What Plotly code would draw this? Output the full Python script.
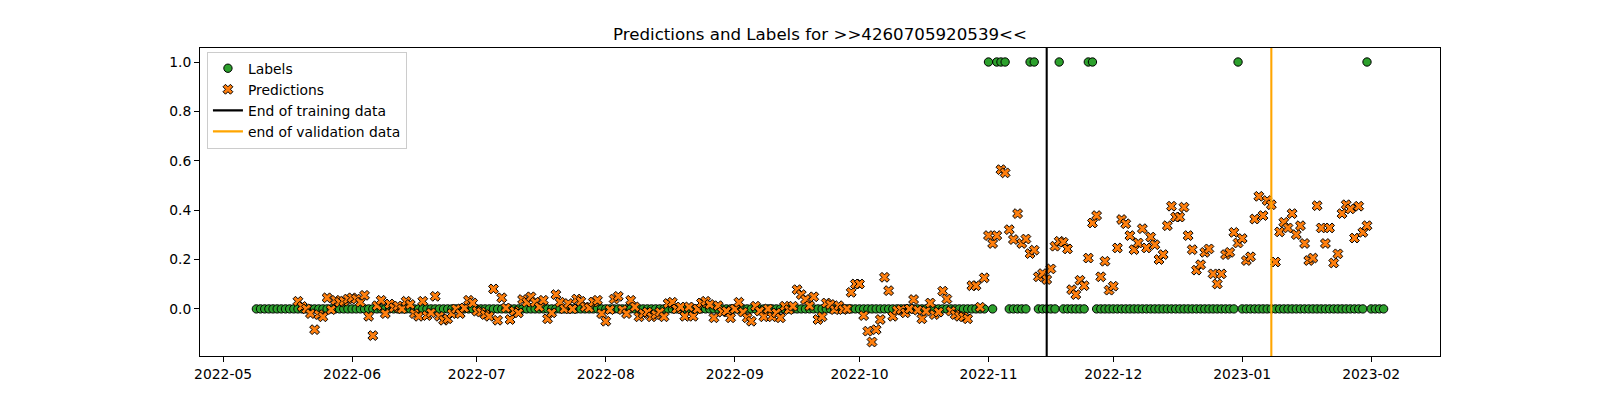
import pandas as pd
import plotly.graph_objects as go

# Daily labels, 2022-05-09 .. 2023-02-04 (one row per month)
label_start = "2022-05-09"
labels_may = [0, 0, 0, 0, 0, 0, 0, 0, 0, 0, 0, 0, 0, 0, 0, 0, 0, 0, 0, 0, 0, 0, 0]
labels_jun = [0, 0, 0, 0, 0, 0, 0, 0, 0, 0, 0, 0, 0, 0, 0, 0, 0, 0, 0, 0, 0, 0, 0, 0, 0, 0, 0, 0, 0, 0]
labels_jul = [0, 0, 0, 0, 0, 0, 0, 0, 0, 0, 0, 0, 0, 0, 0, 0, 0, 0, 0, 0, 0, 0, 0, 0, 0, 0, 0, 0, 0, 0, 0]
labels_aug = [0, 0, 0, 0, 0, 0, 0, 0, 0, 0, 0, 0, 0, 0, 0, 0, 0, 0, 0, 0, 0, 0, 0, 0, 0, 0, 0, 0, 0, 0, 0]
labels_sep = [0, 0, 0, 0, 0, 0, 0, 0, 0, 0, 0, 0, 0, 0, 0, 0, 0, 0, 0, 0, 0, 0, 0, 0, 0, 0, 0, 0, 0, 0]
labels_oct = [0, 0, 0, 0, 0, 0, 0, 0, 0, 0, 0, 0, 0, 0, 0, 0, 0, 0, 0, 0, 0, 0, 0, 0, 0, 0, 0, 0, 0, 0, 0]
labels_nov = [1, 0, 1, 1, 1, 0, 0, 0, 0, 0, 1, 1, 0, 0, 0, 0, 0, 1, 0, 0, 0, 0, 0, 0, 1, 1, 0, 0, 0, 0]
labels_dec = [0, 0, 0, 0, 0, 0, 0, 0, 0, 0, 0, 0, 0, 0, 0, 0, 0, 0, 0, 0, 0, 0, 0, 0, 0, 0, 0, 0, 0, 0, 1]
labels_jan = [0, 0, 0, 0, 0, 0, 0, 0, 0, 0, 0, 0, 0, 0, 0, 0, 0, 0, 0, 0, 0, 0, 0, 0, 0, 0, 0, 0, 0, 0, 1]
labels_feb = [0, 0, 0, 0]

# Daily predictions, 2022-05-19 .. 2023-01-31
pred_start = "2022-05-19"
preds_may = [0.031, 0.010, 0.000, -0.019, -0.084, -0.023, -0.032, 0.045, -0.003, 0.035, 0.027, 0.031, 0.040]
preds_jun = [0.045, 0.040, 0.027, 0.055, -0.030, -0.108, 0.013, 0.035, -0.019, 0.020, 0.005, 0.012, 0.000, 0.031, 0.018,
             -0.019, -0.030, 0.031, -0.027, -0.016, 0.051, -0.030, -0.046, -0.040, -0.019, 0.000, -0.019, 0.004, 0.035, 0.024]
preds_jul = [-0.009, -0.013, -0.023, -0.030, 0.081, -0.046, 0.045, 0.004, -0.043, -0.009, -0.016, 0.038, 0.027, 0.049, 0.027, 0.008,
             0.035, -0.040, -0.016, 0.058, 0.027, 0.000, 0.022, 0.000, 0.040, 0.031, 0.008, 0.004, 0.028, 0.035, -0.019]
preds_aug = [-0.050, -0.003, 0.040, 0.051, -0.003, -0.019, 0.035, 0.008, -0.032, -0.019, -0.013, -0.032, -0.023, -0.013, -0.032, 0.022,
             0.027, 0.000, 0.008, -0.030, 0.008, -0.030, 0.000, 0.024, 0.031, 0.018, -0.036, 0.013, -0.013, -0.009, -0.036]
preds_sep = [0.000, 0.027, -0.013, -0.036, -0.050, 0.011, -0.009, -0.032, 0.000, -0.032, -0.016, -0.036, 0.011, -0.003, 0.011,
             0.078, 0.058, 0.038, 0.013, 0.049, -0.043, -0.032, 0.024, 0.018, -0.003, 0.013, -0.003, 0.000, 0.067, 0.101]
preds_oct = [0.101, -0.027, -0.090, -0.134, -0.084, -0.043, 0.128, 0.074, -0.030, -0.005, -0.003, -0.016, 0.000, 0.038, -0.005, -0.040,
             -0.009, 0.024, -0.023, -0.013, 0.072, 0.040, -0.009, -0.023, -0.030, -0.032, -0.040, 0.094, 0.094, 0.007, 0.126]
preds_nov = [0.297, 0.265, 0.297, 0.564, 0.551, 0.321, 0.281, 0.386, 0.265, 0.283, 0.224, 0.238, 0.130, 0.143, 0.119,
             0.162, 0.254, 0.274, 0.270, 0.243, 0.078, 0.058, 0.116, 0.094, 0.206, 0.348, 0.378, 0.130, 0.193, 0.076]
preds_dec = [0.092, 0.247, 0.362, 0.345, 0.297, 0.240, 0.267, 0.325, 0.247, 0.291, 0.260, 0.200, 0.220, 0.337, 0.416, 0.372,
             0.372, 0.412, 0.297, 0.240, 0.157, 0.179, 0.229, 0.243, 0.142, 0.101, 0.142, 0.220, 0.229, 0.310, 0.267]
preds_jan = [0.285, 0.196, 0.211, 0.364, 0.456, 0.378, 0.439, 0.422, 0.190, 0.312, 0.351, 0.328, 0.386, 0.301, 0.337, 0.265,
             0.196, 0.206, 0.418, 0.328, 0.265, 0.328, 0.186, 0.223, 0.386, 0.422, 0.405, 0.287, 0.416, 0.310, 0.337]

end_of_training = "2022-11-15"
end_of_validation = "2023-01-08"
title = "Predictions and Labels for >>4260705920539<<"

labels = (labels_may + labels_jun + labels_jul + labels_aug + labels_sep + labels_oct
          + labels_nov + labels_dec + labels_jan + labels_feb)
preds = (preds_may + preds_jun + preds_jul + preds_aug + preds_sep + preds_oct
         + preds_nov + preds_dec + preds_jan)
label_dates = pd.date_range(label_start, periods=len(labels), freq="D")
pred_dates = pd.date_range(pred_start, periods=len(preds), freq="D")

FONT = "DejaVu Sans"
PT = 100 / 72  # matplotlib points -> px at 100 dpi

fig = go.Figure()
fig.add_trace(go.Scatter(
    x=label_dates, y=labels, mode="markers", name="Labels",
    marker=dict(symbol="circle", size=6 * PT, color="#2ca02c", line=dict(color="black", width=1)),
))
fig.add_trace(go.Scatter(
    x=pred_dates, y=preds, mode="markers", name="Predictions",
    marker=dict(symbol="x", size=6.3 * PT, color="#ff7f0e", line=dict(color="black", width=1)),
))

# vertical markers, shown in the legend
fig.add_shape(type="line", x0=end_of_training, x1=end_of_training, y0=0, y1=1, yref="paper",
              line=dict(color="black", width=1.5 * PT), showlegend=True, name="End of training data",
              legendrank=1001)
fig.add_shape(type="line", x0=end_of_validation, x1=end_of_validation, y0=0, y1=1, yref="paper",
              line=dict(color="orange", width=1.5 * PT), showlegend=True, name="end of validation data",
              legendrank=1002)

# matplotlib-style 5% margins
x_lo, x_hi = label_dates.min(), label_dates.max()
x_pad = (x_hi - x_lo) * 0.05
all_y = labels + preds
y_lo, y_hi = min(all_y), max(all_y)
y_pad = (y_hi - y_lo) * 0.05

axis_common = dict(
    showline=True, linecolor="black", linewidth=0.8 * PT, mirror=True,
    ticks="outside", ticklen=3.5 * PT, tickwidth=0.8 * PT, tickcolor="black",
    showgrid=False, zeroline=False,
    tickfont=dict(family=FONT, size=10 * PT, color="black"),
)

# page body adds an 8px margin, so the figure is 8px smaller each way
fig.update_layout(
    width=1592, height=392,
    paper_bgcolor="white", plot_bgcolor="white",
    margin=dict(l=192, r=160, t=40, b=44),
    title=dict(text=title, x=0.5, xanchor="center", xref="paper",
               y=1, yref="paper", yanchor="bottom", pad=dict(b=6 * PT),
               font=dict(family=FONT, size=12 * PT, color="black")),
    legend=dict(x=0.0056, y=0.988, xanchor="left", yanchor="top",
                bgcolor="rgba(255,255,255,0.8)", bordercolor="#cccccc", borderwidth=1,
                font=dict(family=FONT, size=10 * PT, color="black"),
                tracegroupgap=0, itemwidth=30),
    xaxis=dict(range=[x_lo - x_pad, x_hi + x_pad], dtick="M1", tick0="2022-05-01",
               tickformat="%Y-%m", **axis_common),
    yaxis=dict(range=[y_lo - y_pad, y_hi + y_pad], tickvals=[0, 0.2, 0.4, 0.6, 0.8, 1.0],
               tickformat=".1f", **axis_common),
)

fig.write_html("out.html")
